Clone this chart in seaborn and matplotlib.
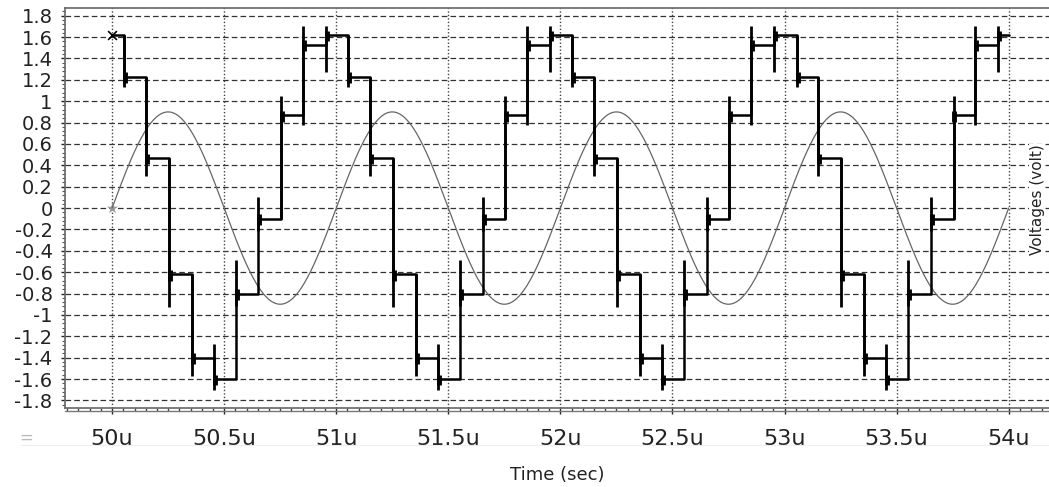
import numpy as np
import pandas as pd
import seaborn as sns
import matplotlib

matplotlib.use("Agg")
import matplotlib.pyplot as plt
from matplotlib.ticker import MultipleLocator, FuncFormatter
from matplotlib.lines import Line2D

# staircase (multilevel inverter output), one period
edge_offsets = [0.054, 0.150, 0.253, 0.355, 0.453, 0.553, 0.653, 0.754, 0.850, 0.953]
edge_levels = [1.23, 0.47, -0.62, -1.40, -1.60, -0.80, -0.10, 0.87, 1.53, 1.62]
spike_low = [1.13, 0.30, -0.93, -1.57, -1.70, -0.92, -0.21, -0.10, 0.78, 1.27]
spike_high = [1.62, 1.23, 0.47, -0.62, -1.27, -0.49, 0.10, 1.05, 1.70, 1.70]
period_starts = [50, 51, 52, 53]
start_level = 1.62
t_end = 54.0

# reference sine
sine_amp = 0.9
sine_period = 1.0

# build the staircase path
t_st = [period_starts[0]]
v_st = [start_level]
edge_t = []
edge_v = []
prev = start_level
for p in period_starts:
    for off, lev in zip(edge_offsets, edge_levels):
        t_st += [p + off, p + off]
        v_st += [prev, lev]
        edge_t.append(p + off)
        edge_v.append(lev)
        prev = lev
t_st.append(t_end)
v_st.append(prev)
stair = pd.DataFrame({"t": t_st, "v": v_st})

lo_all = spike_low * len(period_starts)
hi_all = spike_high * len(period_starts)

t_sin = np.linspace(period_starts[0], t_end, 801)
sine = pd.DataFrame({"t": t_sin, "v": sine_amp * np.sin(2 * np.pi * (t_sin - period_starts[0]) / sine_period)})

sns.set_style("white")
plt.rcParams["font.family"] = ["DejaVu Sans"]
plt.rcParams["axes.unicode_minus"] = False

fig = plt.figure(figsize=(10.49, 4.87), dpi=100)
ax = fig.add_axes([0.062, 0.162, 0.938, 0.8215])

sns.lineplot(data=sine, x="t", y="v", sort=False, estimator=None, color="#666666", linewidth=0.9, ax=ax)
sns.lineplot(data=stair, x="t", y="v", sort=False, estimator=None, color="black", linewidth=1.8, ax=ax)
ax.vlines(edge_t, lo_all, hi_all, color="black", linewidth=2.0)
ax.vlines(np.array(edge_t) + 0.004, np.array(edge_v) - 0.06, np.array(edge_v) + 0.04, color="black", linewidth=3.5)

sns.scatterplot(x=[period_starts[0]], y=[start_level], marker="x", color="black", s=40, linewidth=1.2, ax=ax)
sns.scatterplot(x=[sine["t"].iloc[0]], y=[sine["v"].iloc[0]], marker="*", color="#999999", s=70, linewidth=0, ax=ax)

ax.set_xlim(49.79, 54.18)
ax.set_ylim(-1.872, 1.872)

ax.xaxis.set_major_locator(MultipleLocator(0.5))
ax.xaxis.set_minor_locator(MultipleLocator(0.05))
ax.yaxis.set_major_locator(MultipleLocator(0.2))
ax.yaxis.set_minor_locator(MultipleLocator(0.04))
ax.xaxis.set_major_formatter(FuncFormatter(lambda v, pos: f"{v:g}u"))
ax.yaxis.set_major_formatter(FuncFormatter(lambda v, pos: f"{round(v, 2):g}"))

ax.grid(False)
for y in np.arange(-1.8, 1.81, 0.2):
    ax.axhline(y, color="#333333", linewidth=0.9, linestyle=(0, (4.5, 2.5)), zorder=0)
for x in np.arange(50, 54.01, 0.5):
    ax.axvline(x, color="#444444", linewidth=1.0, linestyle=(0, (1, 1.5)), zorder=0)

ax.tick_params(axis="x", which="major", direction="out", length=4, width=1, pad=11, labelsize=16, colors="#222222", bottom=True)
ax.tick_params(axis="x", which="minor", direction="out", length=2.5, width=1, color="#444444", bottom=True)
ax.tick_params(axis="y", which="major", direction="out", length=3, width=1, pad=6, labelsize=14, colors="#222222", left=True)
ax.tick_params(axis="y", which="minor", direction="out", length=2, width=0.8, color="#555555", left=True)

for side in ["left", "bottom", "top"]:
    ax.spines[side].set_visible(True)
    ax.spines[side].set_color("#666666")
    ax.spines[side].set_linewidth(1.2)
ax.spines["right"].set_visible(False)

# second line of the bottom frame
fig.add_artist(Line2D([0.062, 1.0], [0.156, 0.156], transform=fig.transFigure, color="#777777", linewidth=1.0))
fig.add_artist(Line2D([0.02, 1.0], [0.086, 0.086], transform=fig.transFigure, color="#eeeeee", linewidth=0.8))
fig.text(0.018, 0.09, "=", color="#bbbbbb", fontsize=12)

ax.set_xlabel("Time (sec)", fontsize=13, labelpad=12, color="#222222")
ax.set_ylabel("")
ax.text(0.988, 0.52, "Voltages (volt)", transform=ax.transAxes, rotation=90, ha="center", va="center", fontsize=11,
        color="#222222", bbox=dict(facecolor="white", edgecolor="none", pad=0.5))

fig.savefig("out.png", dpi=100)
